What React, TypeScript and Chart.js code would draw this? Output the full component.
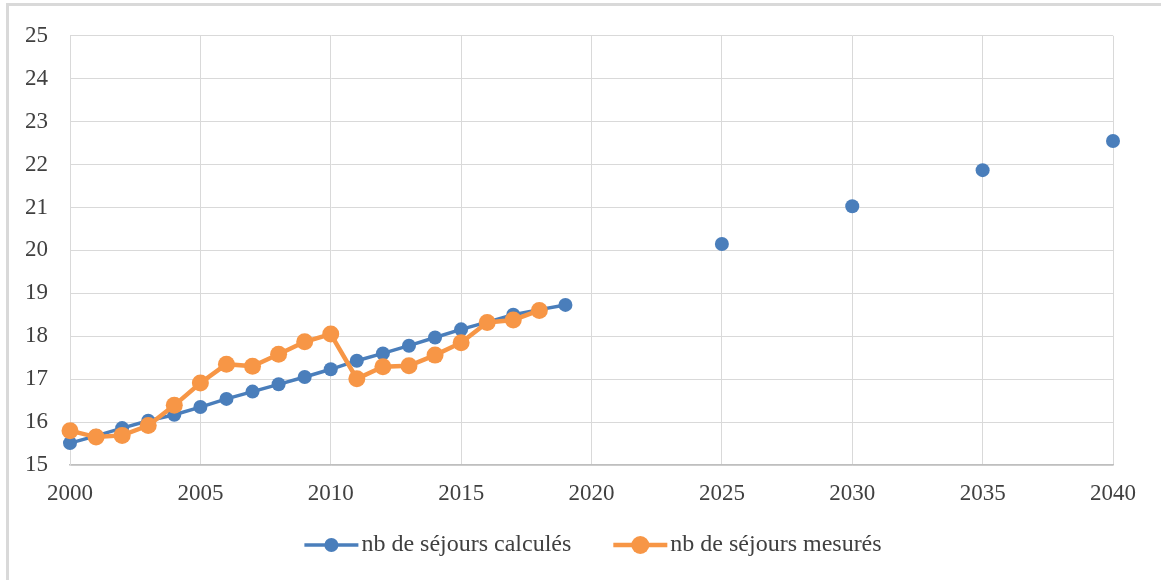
import React, { useEffect, useRef } from 'react';
import { Chart, registerables } from 'chart.js';

Chart.register(...registerables);

// ---- Data ----
const calcYears = [2000, 2001, 2002, 2003, 2004, 2005, 2006, 2007, 2008, 2009, 2010, 2011, 2012, 2013, 2014, 2015, 2016, 2017, 2018, 2019, 2025, 2030, 2035, 2040];
const calcValues = [15.51, 15.68, 15.86, 16.03, 16.17, 16.35, 16.54, 16.71, 16.88, 17.05, 17.23, 17.43, 17.6, 17.78, 17.97, 18.16, 18.33, 18.5, 18.62, 18.73, 20.15, 21.03, 21.87, 22.55];
const lastConnectedYear = 2019;

const measYears = [2000, 2001, 2002, 2003, 2004, 2005, 2006, 2007, 2008, 2009, 2010, 2011, 2012, 2013, 2014, 2015, 2016, 2017, 2018];
const measValues = [15.8, 15.65, 15.69, 15.92, 16.39, 16.91, 17.35, 17.3, 17.58, 17.87, 18.05, 17.01, 17.29, 17.31, 17.56, 17.85, 18.32, 18.38, 18.6];

const seriesLabels = ['nb de séjours calculés', 'nb de séjours mesurés'];

const xMin = 2000;
const xMax = 2040;
const xStep = 5;
const yMin = 15;
const yMax = 25;
const yStep = 1;

// ---- Styles ----
const BLUE = '#4A7EBB';
const ORANGE = '#F79646';
const FONT = '"Liberation Serif", "Times New Roman", serif';
const TEXT = '#404040';

const toPoints = (xs: number[], ys: number[]) => xs.map((x, i) => ({ x, y: ys[i] }));

const lineLegend = {
  id: 'lineLegend',
  afterDraw(chart: any, _args: any, opts: any) {
    const ctx = chart.ctx;
    ctx.save();
    ctx.font = `${opts.fontSize}px ${FONT}`;
    const items = chart.data.datasets.map((ds: any, i: number) => {
      const tw = ctx.measureText(ds.label).width;
      return {
        label: ds.label,
        color: ds.borderColor,
        lw: opts.lineWidths[i],
        r: opts.radii[i],
        w: opts.lineLen + opts.textGap + tw,
      };
    });
    const total = items.reduce((s: number, it: any) => s + it.w, 0) + opts.gap * (items.length - 1);
    let x = opts.centerX - total / 2;
    const y = opts.y;
    items.forEach((it: any) => {
      ctx.strokeStyle = it.color;
      ctx.lineWidth = it.lw;
      ctx.beginPath();
      ctx.moveTo(x, y);
      ctx.lineTo(x + opts.lineLen, y);
      ctx.stroke();
      ctx.fillStyle = it.color;
      ctx.beginPath();
      ctx.arc(x + opts.lineLen / 2, y, it.r, 0, Math.PI * 2);
      ctx.fill();
      ctx.fillStyle = TEXT;
      ctx.textBaseline = 'middle';
      ctx.textAlign = 'left';
      ctx.fillText(it.label, x + opts.lineLen + opts.textGap, y);
      x += it.w + opts.gap;
    });
    ctx.restore();
  },
};

export default function App() {
  const ref = useRef<HTMLCanvasElement>(null);

  useEffect(() => {
    const chart = new Chart(ref.current!, {
      type: 'scatter',
      data: {
        datasets: [
          {
            label: seriesLabels[0],
            data: toPoints(calcYears, calcValues),
            showLine: true,
            borderColor: BLUE,
            backgroundColor: BLUE,
            borderWidth: 3.5,
            pointRadius: 7,
            pointHoverRadius: 7,
            pointBorderWidth: 0,
            pointBackgroundColor: BLUE,
            order: 1,
            clip: false,
            segment: {
              borderColor: (c: any) => (c.p1.parsed.x > lastConnectedYear ? 'rgba(0,0,0,0)' : BLUE),
            },
          } as any,
          {
            label: seriesLabels[1],
            data: toPoints(measYears, measValues),
            showLine: true,
            borderColor: ORANGE,
            backgroundColor: ORANGE,
            borderWidth: 4.5,
            pointRadius: 8.5,
            pointHoverRadius: 8.5,
            pointBorderWidth: 0,
            pointBackgroundColor: ORANGE,
            order: 0,
            clip: false,
          } as any,
        ],
      },
      options: {
        responsive: false,
        animation: false,
        events: [],
        layout: { padding: { left: 10, right: 48, top: 33, bottom: 65 } },
        plugins: {
          legend: { display: false },
          tooltip: { enabled: false },
          lineLegend: {
            fontSize: 24,
            centerX: 593,
            y: 545,
            gap: 42,
            lineLen: 54,
            textGap: 3,
            lineWidths: [3.5, 4.5],
            radii: [7, 9],
          },
        } as any,
        scales: {
          x: {
            type: 'linear',
            min: xMin,
            max: xMax,
            afterFit: (s: any) => {
              s.height = 50;
            },
            ticks: {
              stepSize: xStep,
              padding: 15,
              color: TEXT,
              font: { family: FONT, size: 23 },
              callback: (v: any) => String(v),
              maxRotation: 0,
            },
            grid: { color: '#D9D9D9', lineWidth: 1, drawTicks: false },
            border: { color: '#BFBFBF', width: 1.5 },
          },
          y: {
            type: 'linear',
            min: yMin,
            max: yMax,
            afterFit: (s: any) => {
              s.width = 60;
            },
            ticks: {
              stepSize: yStep,
              padding: 22,
              color: TEXT,
              font: { family: FONT, size: 23 },
              callback: (v: any) => String(v),
            },
            grid: { color: '#D9D9D9', lineWidth: 1, drawTicks: false },
            border: { color: '#D9D9D9', width: 1 },
          },
        },
      },
      plugins: [lineLegend],
    });
    return () => chart.destroy();
  }, []);

  return (
    <div style={{ position: 'absolute', left: 0, top: 0, width: 1161, height: 580, background: '#fff', overflow: 'hidden' }}>
      <div
        style={{
          position: 'absolute',
          left: 6,
          top: 3,
          width: 1300,
          height: 700,
          borderTop: '3px solid #D9D9D9',
          borderLeft: '3px solid #D9D9D9',
        }}
      />
      <canvas ref={ref} width={1161} height={580} style={{ position: 'absolute', left: 0, top: 0 }} />
    </div>
  );
}
